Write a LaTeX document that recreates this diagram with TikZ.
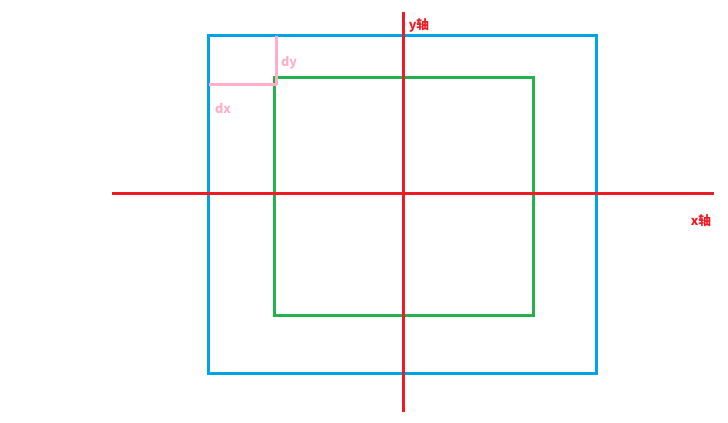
\documentclass[tikz,border=0pt]{standalone}
\usepackage{fontspec}
\setmainfont{Noto Sans CJK SC}
\usetikzlibrary{positioning,calc}

\definecolor{axisred}{HTML}{ED1C24}
\definecolor{outerblue}{HTML}{00A2E8}
\definecolor{innergreen}{HTML}{22B14C}
\definecolor{offsetpink}{HTML}{FFAEC9}

\begin{document}
\begin{tikzpicture}[
    x=0.75pt, y=-0.75pt,
    axis/.style={draw=axisred, line width=2.25pt},
    outerbox/.style={draw=outerblue, line width=2.25pt},
    innerbox/.style={draw=innergreen, line width=2.25pt},
    offset/.style={draw=offsetpink, line width=2.25pt},
    axislabel/.style={text=axisred, font=\bfseries\fontsize{9.5}{10}\selectfont, inner sep=0pt},
    offsetlabel/.style={text=offsetpink, font=\bfseries\fontsize{9.5}{10}\selectfont, inner sep=0pt}
]
    \useasboundingbox (0,0) rectangle (728,423);

    % Outer and inner boxes
    \draw[outerbox] (208,36) rectangle (596.5,374);
    \draw[innerbox] (274.5,78) rectangle (533.5,316);

    % Axes
    \coordinate (xstart) at (112,194);
    \coordinate (xend) at (714,194);
    \coordinate (ystart) at (403.5,12);
    \coordinate (yend) at (403.5,412);
    \draw[axis] (xstart) -- (xend);
    \draw[axis] (ystart) -- (yend);
    \node[axislabel] (ylab) at (419,25) {y轴};
    \node[axislabel] (xlab) at (701,221) {x轴};

    % Offsets between the boxes
    \coordinate (dytop) at (276.5,36);
    \coordinate (corner) at (276.5,85);
    \coordinate (dxleft) at (209,85);
    \draw[offset] (dytop) -- (corner);
    \draw[offset] (dxleft) -- (corner);
    \node[offsetlabel] (dylab) at (289,63) {dy};
    \node[offsetlabel] (dxlab) at (223,109) {dx};

\end{tikzpicture}
\end{document}
